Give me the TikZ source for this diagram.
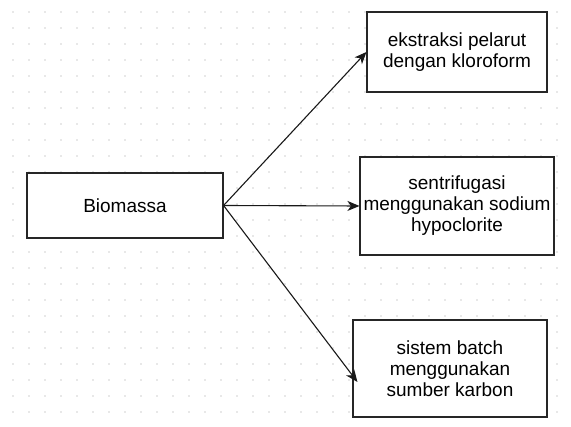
\documentclass[tikz,border=0pt]{standalone}
\usepackage{fontspec}
\setmainfont{Liberation Sans}
\usetikzlibrary{arrows.meta}
\usetikzlibrary{positioning}
\tikzset{stepbox/.style = {draw=black!85, line width=1.1pt, fill=white,
                           inner sep=0pt, align=center,
                           font=\fontsize{19}{21}\selectfont}}
\tikzset{flow/.style = {draw=black!90, line width=1.1pt,
                        -{Stealth[length=12pt,width=10pt,inset=3.5pt]}}}
\tikzset{griddot/.style = {fill=black!18}}

\begin{document}
\begin{tikzpicture}[x=1pt,y=-1pt]
	\useasboundingbox[fill=white] (0,0) rectangle (571,427);
	% dotted grid in the back
	\foreach \gx in {13,29,...,570}
		\foreach \gy in {12,28,...,426}
			\fill[griddot] (\gx,\gy) circle (0.8pt);
	\node[stepbox, minimum width=196pt, minimum height=65pt] (biomassa) at (125,205.5) {Biomassa};
	\node[stepbox, minimum width=180pt, minimum height=80pt] (ekstraksi) at (457,52) {ekstraksi pelarut\\dengan kloroform};
	\node[stepbox, minimum width=194pt, minimum height=98pt] (sentrifugasi) at (457,206) {sentrifugasi\\menggunakan sodium\\hypoclorite};
	\node[stepbox, minimum width=194pt, minimum height=97pt] (batch) at (450,368.5) {sistem batch\\menggunakan\\sumber karbon};
	\coordinate (batchin) at ([shift={(5,13.5)}]batch.west);
	\draw[flow] (biomassa.east) -- (ekstraksi.west);
	\draw[flow] (biomassa.east) -- (sentrifugasi.west);
	\draw[flow] (biomassa.east) -- (batchin);
\end{tikzpicture}
\end{document}
